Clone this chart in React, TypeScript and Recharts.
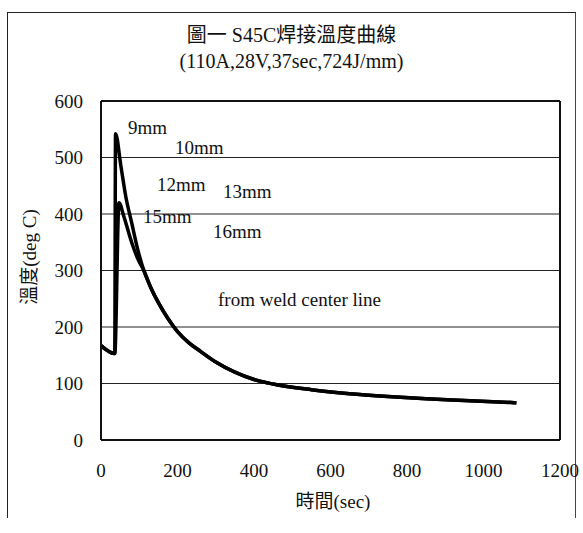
import React from "react";
import {
  LineChart, Line, XAxis, YAxis, CartesianGrid, ReferenceLine,
} from "recharts";

// 9mm side: flat start, sharp spike, falls onto the common decay
const nearT = [0, 36, 38, 52, 65, 80, 95, 112];
const nearTemp = [167, 153, 542, 485, 430, 385, 340, 300];

// 15mm side: lower, slightly later peak
const farT = [0, 36, 47, 60, 80, 98, 112];
const farTemp = [167, 153, 420, 395, 350, 318, 300];

// shared cooling tail
const decayT = [112, 130, 150, 175, 200, 230, 260, 300, 350, 400, 450, 550, 650, 750, 850, 950, 1086];
const decayTemp = [300, 270, 243, 215, 192, 172, 157, 138, 120, 107, 99, 89, 82, 77, 73, 70, 66];

const xTicks = [0, 200, 400, 600, 800, 1000, 1200];
const yTicks = [0, 100, 200, 300, 400, 500, 600];

const title = "圖一 S45C焊接溫度曲線";
const subtitle = "(110A,28V,37sec,724J/mm)";
const xLabel = "時間(sec)";
const yLabel = "溫度(deg C)";

const notes = [
  { text: "9mm", left: 128, top: 117 },
  { text: "10mm", left: 175, top: 137 },
  { text: "12mm", left: 157, top: 174 },
  { text: "13mm", left: 223, top: 181 },
  { text: "15mm", left: 143, top: 206 },
  { text: "16mm", left: 213, top: 221 },
  { text: "from weld center line", left: 218, top: 289 },
];

const FONT = '"Liberation Serif", "Noto Sans CJK TC", serif';

function build(ts: number[], vs: number[]) {
  return ts.map((t, i) => ({ t, temp: vs[i] }));
}

const nearData = [...build(nearT, nearTemp), ...build(decayT, decayTemp).slice(1)];
const farData = [...build(farT, farTemp), ...build(decayT, decayTemp).slice(1)];

export default function App() {
  return (
    <div style={{ position: "absolute", left: 0, top: 0, width: 583, height: 533, background: "#fff", fontFamily: FONT, color: "#111" }}>
      <div style={{ position: "absolute", left: 7, top: 12, width: 567, height: 505, borderLeft: "1px solid #222", borderTop: "1px solid #222", borderRight: "1px solid #444" }} />
      <div style={{ position: "absolute", left: 0, width: 583, top: 19, textAlign: "center", fontSize: 20 }}>{title}</div>
      <div style={{ position: "absolute", left: 0, width: 583, top: 50, textAlign: "center", fontSize: 20 }}>{subtitle}</div>

      <div style={{ position: "absolute", left: 0, top: 0 }}>
        <LineChart width={583} height={533} margin={{ top: 101, right: 23, bottom: 0, left: 0 }}>
          <CartesianGrid vertical={false} stroke="#222" strokeWidth={1.2} />
          <XAxis
            type="number"
            dataKey="t"
            domain={[0, 1200]}
            ticks={xTicks}
            height={93}
            tickSize={0}
            tickMargin={24}
            axisLine={{ stroke: "#111", strokeWidth: 2 }}
            tick={{ fill: "#111", fontSize: 19, fontFamily: FONT }}
            allowDataOverflow
          />
          <YAxis
            type="number"
            domain={[0, 600]}
            ticks={yTicks}
            width={101}
            tickSize={0}
            tickMargin={18}
            axisLine={{ stroke: "#111", strokeWidth: 2 }}
            tick={{ fill: "#111", fontSize: 19, fontFamily: FONT }}
          />
          <ReferenceLine x={1200} stroke="#111" strokeWidth={2} />
          <ReferenceLine y={600} stroke="#111" strokeWidth={2} />
          <Line data={nearData} dataKey="temp" type="monotone" stroke="#000" strokeWidth={3.5} dot={false} isAnimationActive={false} />
          <Line data={farData} dataKey="temp" type="monotone" stroke="#000" strokeWidth={3.5} dot={false} isAnimationActive={false} />
        </LineChart>
      </div>

      {notes.map((n) => (
        <div key={n.text} style={{ position: "absolute", left: n.left, top: n.top, fontSize: 19, lineHeight: "22px", whiteSpace: "nowrap" }}>{n.text}</div>
      ))}

      <div style={{ position: "absolute", left: 0, width: 666, top: 486, textAlign: "center", fontSize: 19 }}>{xLabel}</div>
      <div style={{ position: "absolute", left: 27, top: 257, transform: "translate(-50%, -50%) rotate(-90deg)", fontSize: 19, whiteSpace: "nowrap" }}>{yLabel}</div>
    </div>
  );
}
